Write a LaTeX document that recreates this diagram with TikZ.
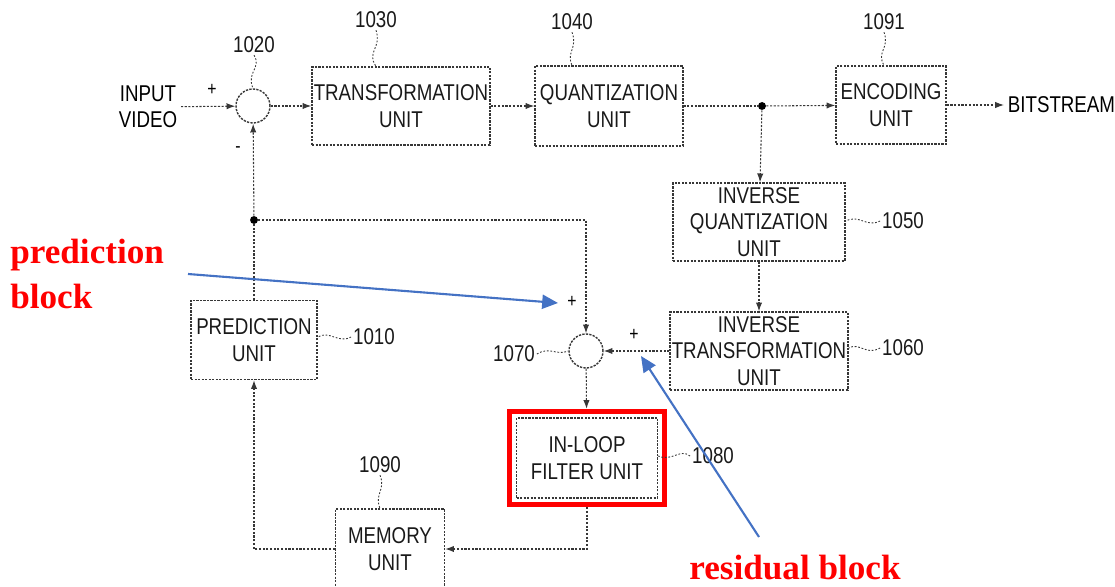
\documentclass[tikz,border=0pt]{standalone}
\usepackage{fontspec}
\setmainfont{Liberation Serif}
\newfontfamily\patfont[FakeStretch=0.82]{Liberation Sans}
\usetikzlibrary{arrows.meta, positioning, fit}
\definecolor{LineGray}{RGB}{55, 55, 55}
\definecolor{NoteRed}{RGB}{255, 0, 0}
\definecolor{NoteBlue}{RGB}{68, 114, 196}

\begin{document}
\begin{tikzpicture}[
    x=0.02cm, y=-0.02cm, % one unit is one pixel of the drawing, y runs down
    font=\patfont\fontsize{13}{15}\selectfont,
    >={Latex[length=5pt, width=3.6pt]},
    unit/.style={draw=LineGray, dash pattern=on 1.3pt off 0.7pt, line width=0.8pt,
                 align=center, inner sep=1pt, text=black!90},
    adder/.style={circle, draw=LineGray, dash pattern=on 1.3pt off 0.7pt, line width=0.8pt,
                  minimum size=0.68cm, inner sep=0pt},
    flow/.style={->, LineGray, dash pattern=on 1.2pt off 0.9pt, line width=0.6pt},
    link/.style={LineGray, dash pattern=on 1.2pt off 0.9pt, line width=0.6pt},
    leader/.style={LineGray, dash pattern=on 1pt off 1pt, line width=0.5pt},
    refno/.style={inner sep=1pt, text=black!90},
    sign/.style={inner sep=0pt, font=\patfont\fontsize{11}{11}\selectfont},
    junction/.style={circle, fill=black, inner sep=0pt, minimum size=4.5pt},
    note/.style={NoteRed, font=\bfseries\fontsize{20}{26}\selectfont, align=left, inner sep=0pt},
    pointer/.style={-{Triangle[length=9pt, width=8pt]}, NoteBlue, line width=1.2pt}
]
\useasboundingbox (0,0) rectangle (1115,587);

% --- Forward path ---
\node[align=center, inner sep=2pt] (vin) at (148,107) {INPUT\\VIDEO};
\node[adder] (sum1) at (253,106) {};
\node[unit, minimum width=3.46cm, minimum height=1.56cm] (trans) at (401,106) {TRANSFORMATION\\UNIT};
\node[unit, minimum width=2.96cm, minimum height=1.6cm] (quant) at (609,106) {QUANTIZATION\\UNIT};
\node[junction] (split) at (762,106) {};
\node[unit, minimum width=2.2cm, minimum height=1.56cm] (enc) at (891,105) {ENCODING\\UNIT};
\node[anchor=west, inner sep=2pt] (bits) at (1004,105) {BITSTREAM};

% --- Reconstruction path ---
\node[unit, minimum width=3.44cm, minimum height=1.56cm] (invq) at (759,222) {INVERSE\\QUANTIZATION\\UNIT};
\node[unit, minimum width=3.44cm, minimum height=1.56cm] (invt) at (759,351) {INVERSE\\TRANSFORMATION\\UNIT};
\node[adder] (sum2) at (586,351) {};
\node[unit, minimum width=2.82cm, minimum height=1.6cm] (filt) at (587,458) {IN-LOOP\\FILTER UNIT};
\node[fit=(filt), draw=NoteRed, line width=2.8pt, inner sep=0.12cm] (filtframe) {};
\node[unit, minimum width=2.18cm, minimum height=1.6cm] (mem) at (390,549) {MEMORY\\UNIT};
\node[unit, minimum width=2.52cm, minimum height=1.58cm] (pred) at (254,340) {PREDICTION\\UNIT};
\node[junction] (fork) at (254,220) {};

% --- Signs at the adders ---
\node[sign] (plusin) at (212,90) {+};
\node[sign] (minusin) at (238,150) {-};
\node[sign] (pluspred) at (572,302) {+};
\node[sign] (plusres) at (634,335) {+};

% --- Connectors ---
\draw[flow] (vin) -- (sum1);
\draw[flow] (sum1) -- (trans);
\draw[flow] (trans) -- (quant);
\draw[link] (quant) -- (split);
\draw[flow] (split) -- (enc);
\draw[flow] (enc) -- (bits);
\draw[flow] (split) -- (invq);
\draw[flow] (invq) -- (invt);
\draw[flow] (invt) -- (sum2);
\draw[flow] (sum2) -- (filtframe);
\draw[flow] (filtframe.south) |- (mem.east);
\draw[flow] (mem.west) -| (pred.south);
\draw[link] (pred) -- (fork);
\draw[flow] (fork) -- (sum1);
\draw[flow] (fork) -| (sum2.north);

% --- Reference numbers ---
\node[refno] (n1020) at (254,45) {1020};
\node[refno] (n1030) at (376,20) {1030};
\node[refno] (n1040) at (572,22) {1040};
\node[refno] (n1091) at (884,22) {1091};
\node[refno] (n1050) at (903,221) {1050};
\node[refno] (n1060) at (903,348) {1060};
\node[refno] (n1010) at (374,337) {1010};
\node[refno] (n1070) at (514,354) {1070};
\node[refno] (n1080) at (713,456) {1080};
\node[refno] (n1090) at (380,465) {1090};

\draw[leader] (n1020.south) .. controls (262,68) and (246,72) .. (sum1.north);
\draw[leader] (n1030.south) .. controls (382,48) and (366,52) .. (trans.north -| n1030);
\draw[leader] (n1040.south) .. controls (578,48) and (566,52) .. (quant.north -| n1040);
\draw[leader] (n1091.south) .. controls (890,48) and (876,52) .. (enc.north -| n1091);
\draw[leader] (n1050.west) .. controls (866,228) and (860,214) .. (invq.east |- n1050);
\draw[leader] (n1060.west) .. controls (866,356) and (860,342) .. (invt.east |- n1060);
\draw[leader] (n1010.west) .. controls (338,344) and (330,330) .. (pred.east |- n1010);
\draw[leader] (n1070.east) .. controls (550,346) and (556,356) .. (sum2.west);
\draw[leader] (n1080.west) .. controls (680,448) and (672,462) .. (filt.east |- n1080);
\draw[leader] (n1090.south) .. controls (386,490) and (374,494) .. (mem.north -| n1090);

% --- Annotations ---
\node[note, anchor=west] (prednote) at (10,274) {prediction\\block};
\node[note, anchor=west] (resnote) at (689,568) {residual block};
\coordinate (predtail) at (188,274);
\coordinate (predtip) at (558,303);
\coordinate (restail) at (759,537);
\coordinate (restip) at (641,356);
\draw[pointer] (predtail) -- (predtip);
\draw[pointer] (restail) -- (restip);

\end{tikzpicture}
\end{document}
